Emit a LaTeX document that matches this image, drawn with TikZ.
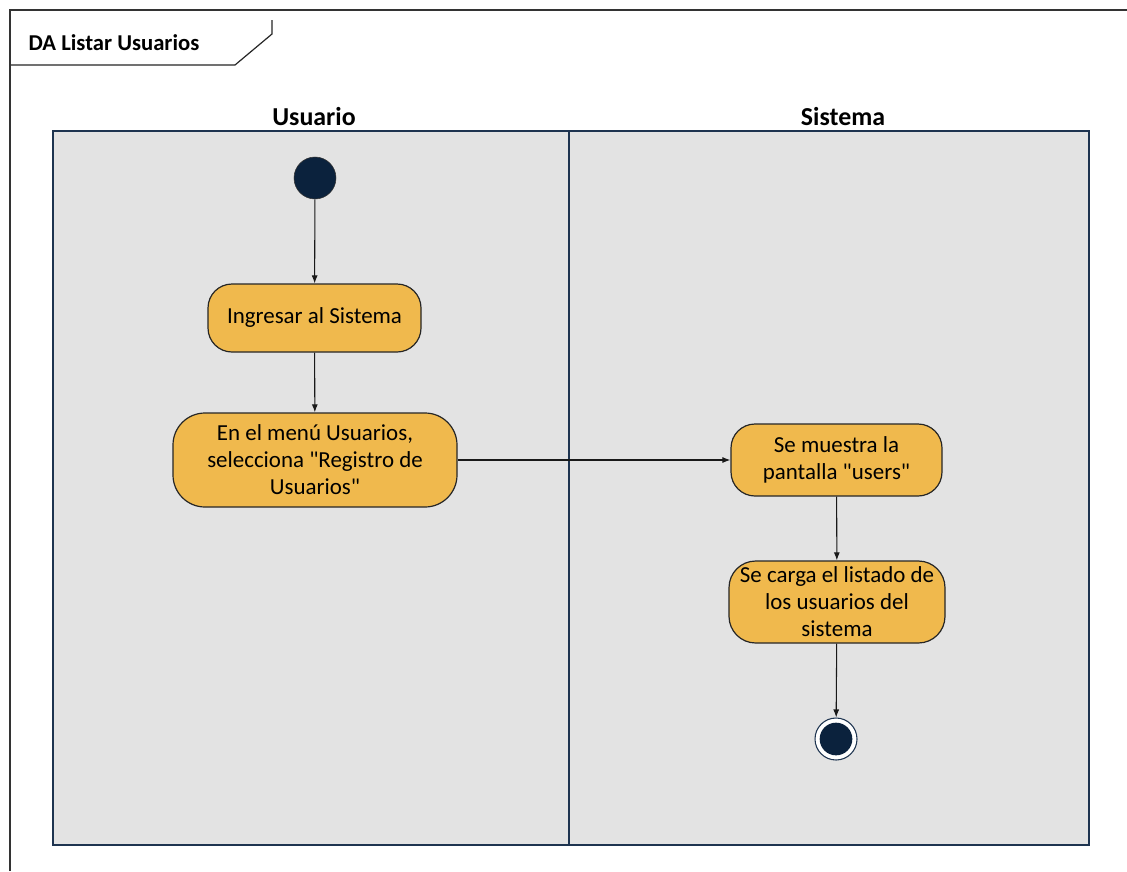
\documentclass[tikz,border=0pt]{standalone}
\usepackage{fontspec}
\setmainfont{Carlito}[Ligatures=TeXOff]
\usetikzlibrary{arrows.meta}
\definecolor{lanefill}{HTML}{E3E3E3}
\definecolor{laneline}{HTML}{1E3450}
\definecolor{actfill}{HTML}{F0B94D}
\definecolor{dotfill}{HTML}{0B223D}
\tikzset{
  act/.style={draw=black!85, line width=0.9pt, fill=actfill, rounded corners=18pt,
    align=center, font=\fontsize{17.2}{20.25}\selectfont, inner sep=2pt},
  flow/.style={draw=black!90, line width=0.8pt, -{Latex[length=6pt,width=4.5pt]}},
  lanehead/.style={font=\fontsize{19.4}{22}\selectfont\bfseries},
}
\begin{document}
\begin{tikzpicture}[x=0.75pt,y=-0.75pt]
\useasboundingbox (0,0) rectangle (1127,871);
\fill[white] (0,0) rectangle (1127,871);
% frame and title tab
\draw[black!80, line width=1.1pt] (10,871) -- (10,10) -- (1127,10);
\draw[black!85, line width=0.9pt] (11,65) -- (235,65) -- (272,34) -- (272,20);
\node[anchor=west, font=\fontsize{17}{19}\selectfont\bfseries] (title) at (24,43) {DA Listar Usuarios};
% swimlanes
\draw[laneline, fill=lanefill, line width=1.1pt] (53,131) rectangle (1089,845);
\draw[laneline, line width=1.1pt] (569,131) -- (569,845);
\node[lanehead] (h1) at (314,117) {Usuario};
\node[lanehead] (h2) at (843,117) {Sistema};
% start node
\node[circle, draw=black!80, fill=dotfill, minimum size=31.5pt, inner sep=0pt] (start) at (315,178) {};
% activities
\node[act, minimum width=159.75pt, minimum height=51pt] (a1) at (314.5,318) {Ingresar al Sistema};
\node[act, minimum width=213pt, minimum height=70.5pt, rounded corners=24pt] (a2) at (315,460) {En el menú Usuarios,\\selecciona "Registro de\\Usuarios"};
\node[act, minimum width=158.25pt, minimum height=54pt] (a3) at (836.5,460) {Se muestra la\\pantalla "users"};
\node[act, minimum width=162pt, minimum height=61.5pt, rounded corners=20pt] (a4) at (837,602) {Se carga el listado de\\los usuarios del\\sistema};
% end node
\node[circle, draw=laneline, fill=white, line width=0.8pt, minimum size=31.5pt, inner sep=0pt] (end) at (836,739) {};
\node[circle, fill=dotfill, minimum size=24.5pt, inner sep=0pt] (endin) at (end.center) {};
% flows
\draw[flow] (start) -- (a1);
\draw[flow] (a1) -- (a2);
\draw[flow] (a2) -- (a3);
\draw[flow] (a3) -- (a4);
\draw[flow] (a4) -- (end);
\end{tikzpicture}
\end{document}
